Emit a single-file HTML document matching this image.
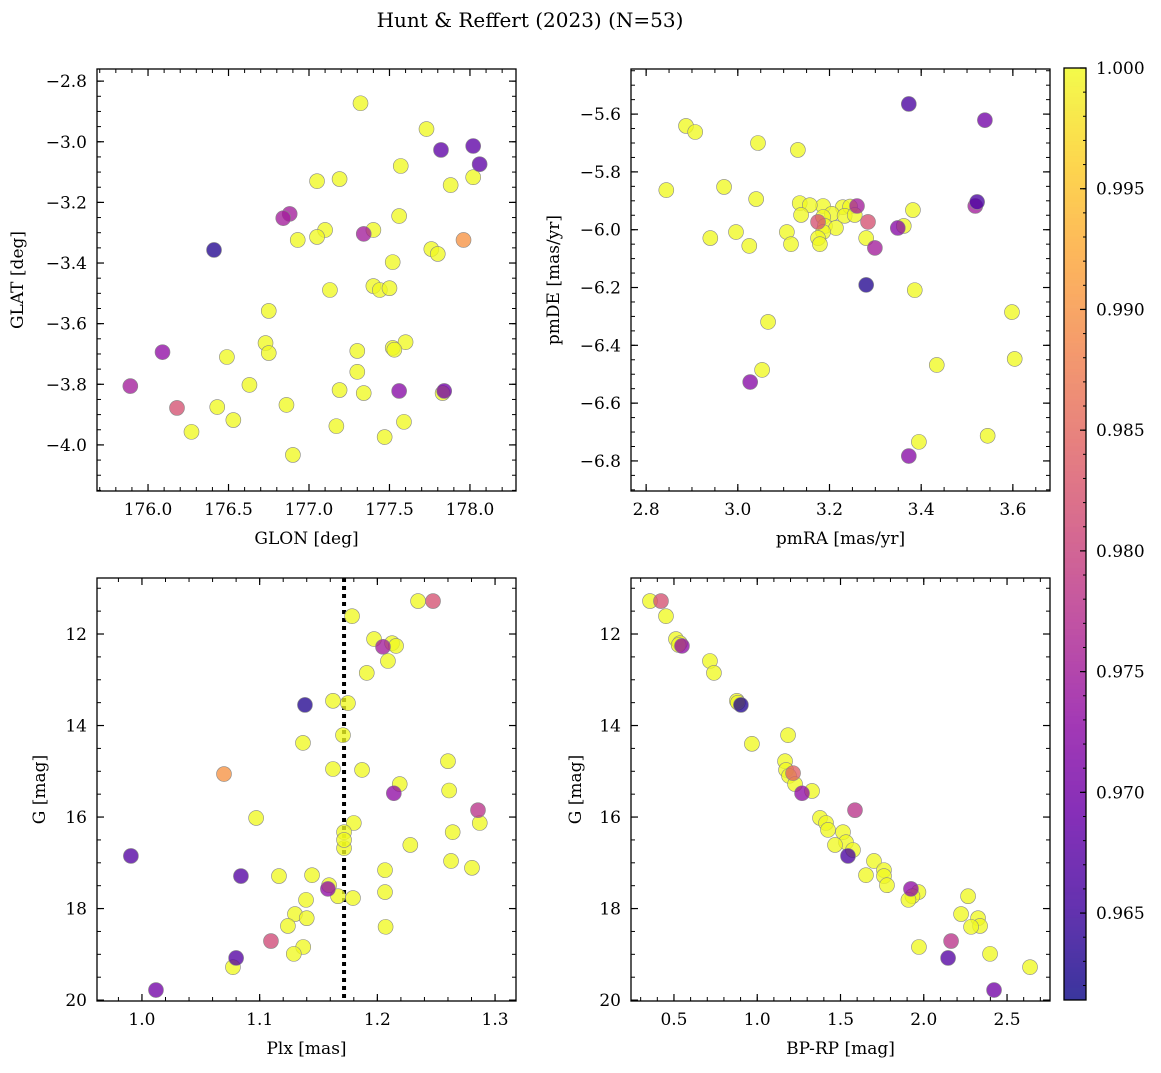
<!DOCTYPE html>
<html><head><meta charset="utf-8"><style>
body{margin:0;background:#fff;}
svg text{font-family:"DejaVu Serif","Liberation Serif",serif;fill:#000;}
</style></head><body>
<svg id="chart" width="1161" height="1068" viewBox="0 0 1161 1068" xmlns="http://www.w3.org/2000/svg">
<text x="530" y="27" font-size="20" text-anchor="middle">Hunt &amp; Reffert (2023) (N=53)</text>
</svg>
<script>
// ---- data ----
const glon=[177.32,177.73,177.82,178.02,178.06,177.57,177.05,177.19,178.02,177.88,176.88,176.84,177.56,177.10,177.40,177.34,177.05,176.93,177.96,176.41,177.76,177.80,177.52,177.40,177.44,177.50,177.13,176.75,176.73,177.60,177.52,177.53,176.75,177.30,176.09,176.49,177.30,176.63,175.89,177.19,177.34,177.56,177.84,177.83,176.18,176.43,176.86,176.53,177.59,177.17,176.27,177.47,176.90];
const glat=[-2.873,-2.958,-3.027,-3.014,-3.074,-3.080,-3.130,-3.123,-3.117,-3.143,-3.238,-3.252,-3.245,-3.291,-3.291,-3.304,-3.314,-3.324,-3.324,-3.357,-3.354,-3.370,-3.397,-3.476,-3.489,-3.483,-3.489,-3.558,-3.664,-3.661,-3.680,-3.686,-3.697,-3.690,-3.694,-3.710,-3.759,-3.802,-3.806,-3.819,-3.829,-3.822,-3.822,-3.829,-3.878,-3.875,-3.868,-3.918,-3.924,-3.938,-3.957,-3.974,-4.033];
const prob1=[1,1,0.968,0.968,0.968,1,1,1,1,1,0.975,0.975,1,1,1,0.975,1,1,0.99,0.963,1,1,1,1,1,1,1,1,1,1,1,1,1,1,0.973,1,1,1,0.975,1,1,0.972,0.970,1,0.982,1,1,1,1,1,1,1,1];
const pmra=[3.373,3.539,2.887,2.907,3.044,3.131,2.844,2.970,3.040,3.135,3.522,3.518,3.186,3.157,3.229,3.260,3.245,3.382,3.138,3.205,3.233,3.255,3.186,3.175,3.284,3.190,3.214,3.186,3.349,3.362,3.107,2.996,3.175,2.940,3.025,3.116,3.179,3.280,3.299,3.280,3.386,3.598,3.604,3.066,3.053,3.027,3.434,3.395,3.545,3.373];
const pmde=[-5.565,-5.621,-5.641,-5.662,-5.700,-5.724,-5.863,-5.852,-5.894,-5.908,-5.904,-5.918,-5.918,-5.915,-5.922,-5.918,-5.920,-5.932,-5.949,-5.945,-5.952,-5.949,-5.956,-5.973,-5.973,-5.987,-5.994,-6.008,-5.994,-5.987,-6.008,-6.008,-6.029,-6.029,-6.056,-6.050,-6.050,-6.029,-6.063,-6.191,-6.209,-6.285,-6.447,-6.319,-6.485,-6.527,-6.468,-6.734,-6.713,-6.783];
const prob2=[0.966,0.970,1,1,1,1,1,1,1,1,0.966,0.975,1,1,1,0.975,1,1,1,1,1,1,1,0.982,0.982,1,1,1,0.972,1,1,1,1,1,1,1,1,1,0.975,0.963,1,1,1,1,1,0.972,1,1,1,0.972];
const plx=[1.2346,1.2473,1.1785,1.1972,1.2125,1.2159,1.2048,1.209,1.191,1.1623,1.175,1.1385,1.1368,1.1708,1.260,1.0697,1.1623,1.187,1.261,1.219,1.214,1.2855,1.287,1.097,1.180,1.1717,1.264,0.9906,1.1717,1.1717,1.228,1.2626,1.2065,1.1164,1.1445,1.0841,1.2804,1.159,1.158,1.1666,1.2065,1.1793,1.1394,1.130,1.140,1.124,1.207,1.1096,1.137,1.129,1.080,1.0773,1.0119];
const gmag3=[11.28,11.28,11.61,12.11,12.20,12.26,12.28,12.59,12.85,13.46,13.51,13.55,14.38,14.21,14.78,15.06,14.95,14.97,15.42,15.28,15.48,15.85,16.13,16.02,16.13,16.33,16.33,16.85,16.68,16.50,16.61,16.96,17.16,17.29,17.27,17.29,17.11,17.49,17.57,17.73,17.64,17.77,17.81,18.12,18.21,18.38,18.40,18.71,18.84,18.99,19.08,19.28,19.78];
const prob3=[1,0.982,1,1,1,1,0.975,1,1,1,1,0.963,1,1,1,0.99,1,1,1,1,0.973,0.978,1,1,1,1,1,0.967,1,1,1,1,1,1,1,0.967,1,1,0.973,1,1,1,1,1,1,1,1,0.981,1,1,0.967,1,0.970];
const bprp=[0.356,0.422,0.452,0.512,0.536,0.548,0.528,0.716,0.740,0.878,0.902,0.884,0.968,1.185,1.167,1.173,1.215,1.191,1.329,1.227,1.269,1.587,1.377,1.413,1.425,1.515,1.533,1.467,1.575,1.545,1.701,1.761,1.653,1.761,1.779,1.923,1.968,1.932,1.908,2.266,2.224,2.326,2.338,2.284,2.164,1.971,2.398,2.146,2.638,2.422];
const gmag4=[11.28,11.28,11.61,12.11,12.20,12.26,12.24,12.59,12.85,13.46,13.55,13.50,14.40,14.21,14.78,14.97,15.04,15.10,15.43,15.28,15.48,15.85,16.02,16.13,16.28,16.33,16.55,16.61,16.72,16.85,16.96,17.16,17.27,17.29,17.49,17.57,17.64,17.73,17.81,17.73,18.12,18.21,18.38,18.40,18.71,18.84,18.99,19.08,19.28,19.78];
const prob4=[1,0.982,1,1,1,0.973,1,1,1,1,0.963,1,1,1,1,1,0.984,1,1,1,0.973,0.978,1,1,1,1,1,1,1,0.966,1,1,1,1,1,0.973,1,1,1,1,1,1,1,1,0.978,1,1,0.967,1,0.970];
const ticks1x=[176.0,176.5,177.0,177.5,178.0], ticks1y=[-2.8,-3.0,-3.2,-3.4,-3.6,-3.8,-4.0];
const ticks2x=[2.8,3.0,3.2,3.4,3.6], ticks2y=[-5.6,-5.8,-6.0,-6.2,-6.4,-6.6,-6.8];
const ticks3x=[1.0,1.1,1.2,1.3], ticksG=[12,14,16,18,20];
const ticks4x=[0.5,1.0,1.5,2.0,2.5];
const cbTicks=[0.965,0.970,0.975,0.980,0.985,0.990,0.995,1.000];
const plxLine=1.1717;

// ---- drawing ----
const NS="http://www.w3.org/2000/svg";
const svg=document.getElementById('chart');
function mk(tag,attrs,parent){const e=document.createElementNS(NS,tag);for(const k in attrs)e.setAttribute(k,attrs[k]);(parent||svg).appendChild(e);return e;}
const stops=[[13,8,135],[65,4,157],[106,0,168],[143,13,164],[177,42,144],[204,71,120],[225,100,98],[242,132,75],[252,166,54],[252,206,37],[240,249,33]];
const VMIN=0.9614,VMAX=1.0,ALPHA=0.78;
function plasma(v){let t=(v-VMIN)/(VMAX-VMIN);t=Math.max(0,Math.min(1,t))*10;const i=Math.min(9,Math.floor(t)),f=t-i;const a=stops[i],b=stops[i+1];return 'rgb('+a.map((c,k)=>Math.round(c+(b[k]-c)*f)).join(',')+')';}
function lin(d0,d1,r0,r1){return v=>r0+(v-d0)/(d1-d0)*(r1-r0);}
function fmt(v,d){return (v<0?'\u2212':'')+Math.abs(v).toFixed(d);}

function panel(cfg){
  const g=mk('g',{});
  
  
  const X=lin(cfg.xd[0],cfg.xd[1],cfg.L,cfg.R), Y=lin(cfg.yd[0],cfg.yd[1],cfg.T,cfg.B);
  const mg=mk('g',{stroke:'#000','stroke-width':1},g);
  
  
  const xs=Math.min(cfg.xd[0],cfg.xd[1]),xe=Math.max(cfg.xd[0],cfg.xd[1]);
  for(let k=Math.ceil(xs/cfg.xm-1e-6);k*cfg.xm<=xe+1e-9;k++){const px=X(k*cfg.xm);mk('line',{x1:px,x2:px,y1:cfg.B,y2:cfg.B-4},mg);mk('line',{x1:px,x2:px,y1:cfg.T,y2:cfg.T+4},mg);}
  const ys=Math.min(cfg.yd[0],cfg.yd[1]),ye=Math.max(cfg.yd[0],cfg.yd[1]);
  for(let k=Math.ceil(ys/cfg.ym-1e-6);k*cfg.ym<=ye+1e-9;k++){const py=Y(k*cfg.ym);mk('line',{y1:py,y2:py,x1:cfg.L,x2:cfg.L+4},mg);mk('line',{y1:py,y2:py,x1:cfg.R,x2:cfg.R-4},mg);}
  cfg.xt.forEach(v=>{const px=X(v);
    mk('line',{x1:px,x2:px,y1:cfg.B,y2:cfg.B-7,stroke:'#000','stroke-width':1.2},g);
    mk('line',{x1:px,x2:px,y1:cfg.T,y2:cfg.T+7,stroke:'#000','stroke-width':1.2},g);
    const t=mk('text',{x:px,y:cfg.B+24,'font-size':17,'text-anchor':'middle'},g);t.textContent=fmt(v,cfg.xdp);
    
    });
  cfg.yt.forEach(v=>{const py=Y(v);
    mk('line',{y1:py,y2:py,x1:cfg.L,x2:cfg.L+7,stroke:'#000','stroke-width':1.2},g);
    mk('line',{y1:py,y2:py,x1:cfg.R,x2:cfg.R-7,stroke:'#000','stroke-width':1.2},g);
    const t=mk('text',{x:cfg.L-10,y:py+6,'font-size':17,'text-anchor':'end'},g);t.textContent=fmt(v,cfg.ydp);
    
    });
  if(cfg.vline!==undefined){const px=X(cfg.vline);const vl=mk('line',{x1:px,x2:px,y1:cfg.T,y2:cfg.B,stroke:'#000','stroke-width':4,'stroke-dasharray':'4,4'},g);
    
    }
  const pts=mk('g',{},g);
  
  
  const order=cfg.x.map((_,i)=>i).sort((a,b)=>cfg.p[b]-cfg.p[a]);
  order.forEach(i=>{const c=mk('circle',{cx:X(cfg.x[i]),cy:Y(cfg.y[i]),r:7.5,fill:plasma(cfg.p[i]),'fill-opacity':ALPHA,stroke:'#888','stroke-width':0.6},pts);
    
    });
  const fr=mk('rect',{x:cfg.L,y:cfg.T,width:cfg.R-cfg.L,height:cfg.B-cfg.T,fill:'none',stroke:'#000','stroke-width':1.3},g);
  
  
  const xl=mk('text',{x:(cfg.L+cfg.R)/2,y:cfg.B+53,'font-size':17,'text-anchor':'middle'},g);xl.textContent=cfg.xlab;
  
  
  const yl=mk('text',{x:0,y:0,'font-size':17,'text-anchor':'middle',transform:'translate('+cfg.ylx+','+(cfg.T+cfg.B)/2+') rotate(-90)'},g);yl.textContent=cfg.ylab;
  
  
}
panel({name:'glon-glat-panel',L:97,R:516,T:69,B:491,xd:[175.683,178.286],yd:[-2.760,-4.152],xm:0.1,ym:0.05,xt:ticks1x,yt:ticks1y,xdp:1,ydp:1,x:glon,y:glat,p:prob1,xlab:'GLON [deg]',ylab:'GLAT [deg]',ylx:23});
panel({name:'pm-panel',L:631,R:1050,T:69,B:491,xd:[2.767,3.681],yd:[-5.444,-6.904],xm:0.05,ym:0.05,xt:ticks2x,yt:ticks2y,xdp:1,ydp:1,x:pmra,y:pmde,p:prob2,xlab:'pmRA [mas/yr]',ylab:'pmDE [mas/yr]',ylx:559});
panel({name:'plx-g-panel',L:97,R:516,T:578,B:1001,xd:[0.9618,1.3178],yd:[10.776,20.02],xm:0.02,ym:0.5,xt:ticks3x,yt:ticksG,xdp:1,ydp:0,x:plx,y:gmag3,p:prob3,xlab:'Plx [mas]',ylab:'G [mag]',ylx:45,vline:plxLine});
panel({name:'cmd-panel',L:631,R:1050,T:578,B:1001,xd:[0.242,2.758],yd:[10.776,20.02],xm:0.1,ym:0.5,xt:ticks4x,yt:ticksG,xdp:1,ydp:0,x:bprp,y:gmag4,p:prob4,xlab:'BP-RP [mag]',ylab:'G [mag]',ylx:581});

// colorbar
const cb=mk('g',{});


const CT=68,CB=1000,CL=1064,CR=1086;
const CY=lin(VMIN,VMAX,CB,CT);
for(let y=CT;y<CB;y++){const v=VMIN+(CB-y-0.5)/(CB-CT)*(VMAX-VMIN);mk('rect',{x:CL,y:y,width:CR-CL,height:1.2,fill:plasma(v),'fill-opacity':ALPHA},cb);}
for(let k=Math.ceil(VMIN/0.001);k<=1000;k++){const py=CY(k/1000);mk('line',{x1:CR,x2:CR-3,y1:py,y2:py,stroke:'#000'},cb);}
cbTicks.forEach(v=>{const py=CY(v);mk('line',{x1:CR,x2:CR-6,y1:py,y2:py,stroke:'#000','stroke-width':1.2},cb);
  const t=mk('text',{x:CR+10,y:py+6,'font-size':17},cb);t.textContent=v.toFixed(3);
  
  });
mk('rect',{x:CL,y:CT,width:CR-CL,height:CB-CT,fill:'none',stroke:'#000','stroke-width':1.3},cb);
</script>
</body></html>
